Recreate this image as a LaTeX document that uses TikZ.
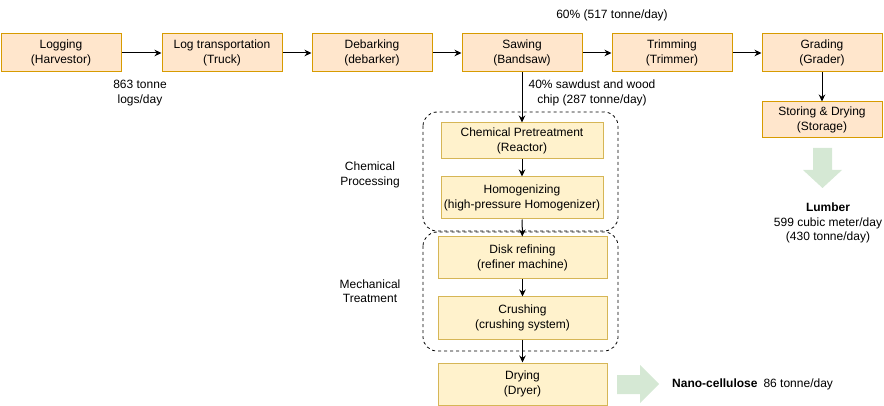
\documentclass[tikz,border=0pt]{standalone}
\usepackage{fontspec}
\setmainfont{Liberation Sans}
\usetikzlibrary{arrows.meta}
\definecolor{orfill}{HTML}{FFE6CC}
\definecolor{ordraw}{HTML}{D79B00}
\definecolor{yefill}{HTML}{FFF2CC}
\definecolor{yedraw}{HTML}{D6B656}
\definecolor{grfill}{HTML}{D5E8D4}
\begin{document}
\begin{tikzpicture}[x=1pt,y=-1pt,
    font=\fontsize{12}{14.5}\selectfont,
    orbox/.style={draw=ordraw,fill=orfill,line width=1pt,minimum width=120pt,minimum height=38pt,align=center,inner sep=0pt},
    yebox/.style={draw=yedraw,fill=yefill,line width=1pt,minimum width=162pt,minimum height=38pt,align=center,inner sep=0pt},
    group/.style={draw,dashed,rounded corners=14pt,line width=0.8pt},
    flow/.style={-{Stealth[length=7pt,width=6.5pt]},line width=1pt},
    lbl/.style={align=center,inner sep=0pt}]
    \useasboundingbox (0,0) rectangle (884,406);
    % process groups
    \draw[group] (423,112) rectangle (618,231);
    \draw[group] (423,232) rectangle (618,351);
    % main line
    \node[orbox] (logging) at (61,53) {Logging\\(Harvestor)};
    \node[orbox] (transport) at (222,53) {Log transportation\\(Truck)};
    \node[orbox] (debarking) at (372,53) {Debarking\\(debarker)};
    \node[orbox] (sawing) at (522,53) {Sawing\\(Bandsaw)};
    \node[orbox] (trimming) at (672,53) {Trimming\\(Trimmer)};
    \node[orbox] (grading) at (822,53) {Grading\\(Grader)};
    \node[orbox,minimum height=36pt] (storing) at (822,120) {Storing \& Drying\\(Storage)};
    % nano-cellulose line
    \node[yebox,minimum height=36pt] (pretreat) at (522,141) {Chemical Pretreatment\\(Reactor)};
    \node[yebox,minimum height=42pt] (homog) at (522,198) {Homogenizing\\(high-pressure Homogenizer)};
    \node[yebox,minimum width=169pt,minimum height=42pt] (disk) at (522.5,258) {Disk refining\\(refiner machine)};
    \node[yebox,minimum width=169pt,minimum height=42pt] (crushing) at (522.5,318) {Crushing\\(crushing system)};
    \node[yebox,minimum width=169pt,minimum height=42pt] (drying) at (522.5,384) {Drying\\(Dryer)};
    \foreach \a/\b in {logging/transport,transport/debarking,debarking/sawing,sawing/trimming,trimming/grading}
    \draw[flow] (\a) -- (\b);
    \draw[flow] (grading) -- (storing);
    \draw[flow] (sawing.south) -- (pretreat.north);
    \draw[flow] (pretreat) -- (homog);
    \draw[flow] (homog) -- (disk);
    \draw[flow] (disk) -- (crushing);
    \draw[flow] (crushing) -- (drying);
    % labels
    \node[lbl] (logsday) at (140,93) {863 tonne\\logs/day};
    \node[lbl] (sixty) at (612,15) {60\% (517 tonne/day)};
    \node[lbl] (forty) at (592,93) {40\% sawdust and wood\\chip (287 tonne/day)};
    \node[lbl] (chemlbl) at (370,175) {Chemical\\Processing};
    \node[lbl] (mechlbl) at (370,291) {Mechanical\\Treatment};
    % product arrows
    \fill[grfill] (813,148) -- (832,148) -- (832,170) -- (842,170) -- (822.5,188) -- (803,170) -- (813,170) -- cycle;
    \fill[grfill] (617,375) -- (640,375) -- (640,365) -- (659,384) -- (640,403) -- (640,394) -- (617,394) -- cycle;
    \node[lbl] (lumber) at (828,223) {\textbf{Lumber}\\599 cubic meter/day\\(430 tonne/day)};
    \node[lbl,anchor=west] (nano) at (672,384) {\textbf{Nano-cellulose}\enspace 86 tonne/day};
\end{tikzpicture}
\end{document}
